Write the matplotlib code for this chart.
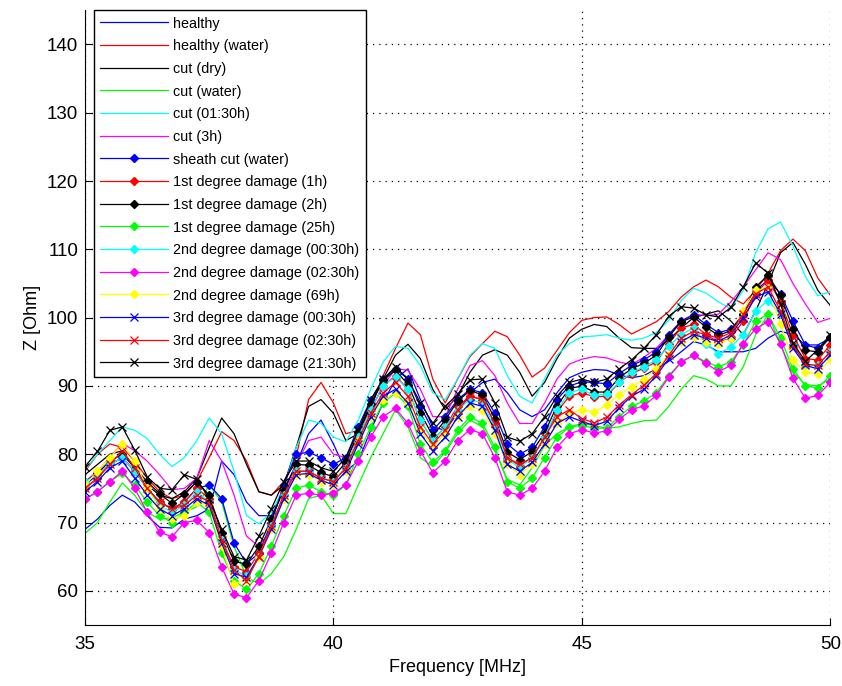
import numpy as np
import matplotlib
matplotlib.use('Agg')
import matplotlib.pyplot as plt

# Frequência (MHz) - passo de 0.25 MHz
freq = np.linspace(35, 50, 61)

healthy = [69, 70.5, 72.5, 74, 73, 71, 69.3, 69.2, 70.5, 71, 72, 79, 77, 73, 71, 71,
           74.5, 78.5, 83, 85, 81.5, 77.5, 79, 83.5, 87.5, 91, 92.5, 88, 84, 83.5, 86,
           89, 90.5, 91, 89, 86.5, 85.5, 86.5, 89, 91.2, 92, 92.4, 92.3, 91.6, 91.2,
           91.5, 92.5, 93.6, 95, 96.5, 96, 95, 95, 95, 95.5, 97, 98, 97.5, 96, 96, 97]
healthy_water = [77.5, 80, 81.5, 81, 79, 76.5, 74.5, 73.5, 74, 76, 79.5, 83.3, 82, 79,
                 74.5, 74, 76, 79.6, 88, 90.5, 87.5, 83, 83.5, 87, 91.5, 95.5, 99.2,
                 97.5, 91, 87.5, 91, 94.3, 96.2, 98, 97.2, 94.5, 91.3, 92.6, 95.2, 97.8,
                 99.6, 100, 100.1, 99, 97.6, 98.5, 99.4, 100.9, 103, 104.5, 105.5, 104.5,
                 103, 102, 104, 106.5, 109.8, 111.5, 109.8, 105.8, 103.3]
cut_dry = [77, 78.5, 80, 80.5, 78, 75.5, 74, 73.5, 74.5, 76.5, 81, 85.3, 83, 78.5, 74.5,
           74, 75.5, 81, 87, 88, 86, 82, 83, 87, 91, 94.5, 96.1, 94, 89.5, 86.5, 88.5,
           92, 94.5, 95.3, 94.5, 92, 88.5, 90.5, 94, 97, 98.3, 99, 98.7, 97, 95.6, 95.5,
           95.5, 96.7, 98.5, 100, 100.5, 101, 99.5, 97.5, 101, 105, 109.5, 111, 107.8,
           104, 101.8]
cut_water = [68.4, 70, 73, 75.8, 74, 71.5, 70.5, 70.7, 71.5, 72.3, 75.5, 73, 66.5, 62,
             61, 62.5, 65, 69, 73.5, 74, 71.3, 71.3, 75.5, 79.5, 83, 86.5, 84, 79.5,
             78.2, 80.3, 83, 85, 84, 80.5, 76.3, 75.5, 78, 81.3, 83, 84, 84.5, 84.2,
             83.8, 84, 84.5, 84.9, 85, 87, 89.5, 91.5, 91, 90, 90, 92.8, 97.5, 100.5,
             96, 92, 90.2, 90, 91]
cut_0130 = [77.7, 80, 82, 84, 83.5, 82.3, 80, 78.2, 79.5, 82, 85.3, 83, 77.5, 71, 69.8,
            71.5, 75, 81, 85, 84.5, 82.5, 81.8, 85, 89.5, 93.5, 95.8, 95.5, 93, 89, 88,
            91, 94.5, 96.2, 95.5, 91.5, 88.5, 87.5, 91, 94.5, 96.2, 97.2, 97.3, 97.5,
            97, 96.7, 97, 97.8, 99.6, 102.5, 104.3, 103.6, 102.3, 101.3, 104, 109.5,
            113, 114, 110.5, 106, 103.2, 103.8]
cut_3h = [76, 77.5, 79.5, 81.6, 80.5, 79, 77, 74.8, 75, 76.5, 82, 79, 74, 68, 66.5, 69,
          73.5, 78.5, 82, 82.5, 80, 79.5, 82.5, 86.5, 90, 92.5, 92.3, 89.5, 85.5, 85.5,
          89.5, 93, 93.7, 91.5, 87.5, 84.5, 84.5, 87.5, 91, 93.2, 93.9, 94.3, 94.1,
          93.5, 93.1, 94.2, 95.5, 97.5, 99.5, 100.5, 100.3, 100.5, 102.3, 104.5, 107,
          109.5, 108.5, 105, 102, 99.3, 99.9]
sheath_water = [75.5, 77, 78.5, 79.5, 77.5, 75, 73, 72, 73, 75, 75.5, 73.5, 67, 64,
                65.5, 70, 75.5, 80, 80.3, 79.5, 78.5, 79.5, 84, 88, 91, 92.5, 91, 87,
                83.5, 85.5, 88, 89.5, 89, 86, 81.5, 80, 81, 84, 88, 90, 90.6, 90.5,
                90.3, 91.8, 93, 93.8, 95, 97.5, 99.5, 100.4, 99, 97.8, 98.3, 100.4, 104,
                105.5, 103.5, 99.5, 96, 95.5, 97]
dmg1_1h = [75, 76.5, 78.5, 79.5, 77.5, 75, 73, 72, 73, 75, 73.5, 67.5, 63.5, 62.8, 65.5,
           69.5, 74, 77.5, 77.5, 76.5, 76, 78, 82.5, 86.5, 90, 91.5, 89.5, 85, 82, 84,
           87, 88.5, 88, 84.5, 79.5, 78.3, 79.5, 82.3, 86.2, 88.5, 89, 88.4, 88.5,
           90.5, 91.8, 92.6, 93.5, 96.2, 98.5, 99, 97.5, 96.4, 97, 99.5, 103.5, 105.5,
           102.3, 97.5, 94, 93.8, 96]
dmg1_2h = [76, 77.2, 79, 80, 78, 76, 74.2, 72.8, 74.2, 76, 74, 68.5, 64.3, 63.9, 66.5,
           70.5, 74.8, 78.5, 78.4, 77.3, 76.7, 78.8, 83.2, 87.4, 90.8, 92.3, 90.2, 86,
           82.7, 85, 87.8, 89.3, 88.7, 85.2, 80.3, 79.2, 80.4, 83.1, 87.1, 89.6, 90,
           89.1, 89.1, 91.2, 92.5, 93.3, 94.5, 97.2, 99.4, 100.1, 98.6, 97.4, 98.1,
           100.6, 104.5, 106.2, 103.3, 98.4, 95.2, 95, 97.2]
dmg1_25h = [73.5, 74.5, 76, 77.2, 75.5, 73, 71, 70, 71.5, 73, 71.5, 65.5, 61.5, 60.2,
            62.5, 66.5, 71, 75, 75.5, 74.5, 74, 75.5, 80, 84, 87.5, 89, 87, 81.5, 78.8,
            80.5, 83.5, 85.5, 84.5, 81, 76, 75, 76.5, 79.5, 82.5, 84, 84.2, 83.8, 83.8,
            85.5, 87, 87.8, 89, 91.5, 93.5, 94.5, 93.5, 92.8, 93.5, 96, 99.5, 100.5,
            97, 92.5, 90, 89.7, 91.5]
dmg2_0030 = [76, 77, 78.5, 79.5, 77.5, 75, 72.5, 71.5, 72.5, 74.5, 73, 67.5, 63, 62.2,
             65, 69.5, 74, 77.5, 77.5, 76.5, 76, 78, 82.5, 86.5, 90, 91.3, 89.5, 85, 82,
             84, 86.5, 88, 87.5, 84, 79.3, 78, 79.5, 82.5, 86.5, 89, 89.5, 88.6, 88.8,
             90.5, 92, 92.8, 93.8, 95.8, 97.5, 98.5, 96.2, 94.7, 95.7, 97.5, 101, 102.5,
             100.5, 96, 93, 93, 95]
dmg2_0230 = [73.4, 74.5, 76, 77.5, 75, 71.5, 68.6, 67.9, 70, 70.3, 68.5, 63.5, 59.5, 59,
             61.5, 65.5, 70, 74, 74.3, 74, 74.3, 75.5, 79, 82.5, 85.5, 86.7, 84.5, 80.5,
             77.3, 79, 82, 83.6, 83, 79.5, 74.5, 74, 75, 77.5, 81, 83, 83.6, 83.1, 83.4,
             85.1, 86.5, 87.1, 88.6, 91.3, 93.5, 94.5, 93.3, 92.1, 93, 96.2, 98.4, 99.4,
             96.2, 91.1, 88.2, 88.6, 90.5]
dmg2_69h = [75.5, 77.5, 79.5, 81.5, 79, 75, 72, 70.5, 71, 73, 72.5, 66.5, 61, 61.8, 65,
            69, 73.5, 77, 77, 76, 75.5, 77.5, 82, 85.5, 88, 89, 87.5, 83.5, 81, 83, 85.5,
            87, 86.5, 83, 78.5, 77, 78.5, 81.5, 84.5, 86, 86.5, 86.2, 87.2, 88.7, 89.9,
            91, 92.5, 94.5, 96.5, 97.2, 96.5, 96.2, 97, 101, 104, 104.3, 99, 93.8, 92,
            91.8, 94]
dmg3_0030 = [74.5, 76, 78, 79, 76.5, 74, 72, 71, 72, 73.5, 72.5, 67, 62.5, 62, 65, 69,
             73.5, 77, 77.2, 76.2, 75.5, 77.5, 81.5, 85.5, 88.5, 89.5, 87.5, 83, 80.5,
             82.5, 85.5, 87.5, 87, 83.5, 78.5, 77.5, 78.8, 81.5, 84.5, 85.5, 84.8, 84.2,
             84.8, 86.8, 88.5, 89.5, 91.5, 94, 96.5, 97.5, 97, 96.5, 97.5, 100, 103,
             103.8, 100.5, 95.5, 93, 92.5, 94.5]
dmg3_0230 = [75, 76.5, 78.5, 80.5, 78, 75, 73, 72, 72.5, 74, 73, 67.5, 63, 61.5, 65,
             69.5, 74, 77.5, 77.5, 76.5, 76, 78, 82, 86, 89, 90.5, 88.5, 84, 81.5, 83.5,
             86.5, 88.5, 88, 84.5, 79.5, 78.5, 79.5, 82.5, 85.5, 86.5, 85.2, 84.6, 85.4,
             87.2, 88.7, 90.1, 91.8, 94.5, 97, 98, 97.5, 97, 97.8, 100.5, 103.5, 104.5,
             101, 96, 93.2, 93, 95]
dmg3_2130 = [78.2, 80.4, 83.5, 84, 80.6, 76.7, 75, 74.8, 77, 76.3, 73.5, 69, 65, 64.5,
             68, 72, 76, 79, 79, 78, 77.5, 79.5, 83.5, 87.9, 91, 92.8, 91, 87.5, 84.5,
             87, 88.8, 90.9, 91, 87.5, 82.5, 81.9, 83, 85.5, 88.5, 90.5, 91, 90.5, 91,
             92.5, 93.8, 95.5, 97.5, 100.2, 101.6, 101.4, 100.4, 100.1, 101.5, 104.5,
             108, 106.5, 102, 96.3, 93.6, 95.3, 97.5]

rotulos = ['healthy', 'healthy (water)', 'cut (dry)', 'cut (water)', 'cut (01:30h)',
           'cut (3h)', 'sheath cut (water)', '1st degree damage (1h)',
           '1st degree damage (2h)', '1st degree damage (25h)',
           '2nd degree damage (00:30h)', '2nd degree damage (02:30h)',
           '2nd degree damage (69h)', '3rd degree damage (00:30h)',
           '3rd degree damage (02:30h)', '3rd degree damage (21:30h)']
series = [healthy, healthy_water, cut_dry, cut_water, cut_0130, cut_3h, sheath_water,
          dmg1_1h, dmg1_2h, dmg1_25h, dmg2_0030, dmg2_0230, dmg2_69h,
          dmg3_0030, dmg3_0230, dmg3_2130]
cores = ['#0000ff', '#ff0000', '#000000', '#00ff00', '#00ffff', '#ff00ff',
         '#0000ff', '#ff0000', '#000000', '#00ff00', '#00ffff', '#ff00ff', '#ffff00',
         '#0000ff', '#ff0000', '#000000']
marcadores = [None] * 6 + ['D'] * 7 + ['x'] * 3

plt.rcParams['font.family'] = ['Liberation Sans', 'DejaVu Sans']

fig = plt.figure(figsize=(8.42, 6.86), dpi=100)
ax = fig.add_axes([0.101, 0.089, 0.885, 0.896])

for valores, rotulo, cor, marc in zip(series, rotulos, cores, marcadores):
    if marc == 'D':
        ax.plot(freq, valores, color=cor, lw=0.9, marker='D', markersize=4.5, label=rotulo)
    elif marc == 'x':
        ax.plot(freq, valores, color=cor, lw=0.9, marker='x', markersize=5.5,
                markeredgewidth=0.9, label=rotulo)
    else:
        ax.plot(freq, valores, color=cor, lw=0.9, label=rotulo)

ax.set_xlim(35, 50)
ax.set_ylim(55, 145)
ax.set_xticks([35, 40, 45, 50])
ax.set_yticks(range(60, 141, 10))
ax.grid(True, color='black', linestyle=(0, (1, 4)), linewidth=0.9)
ax.spines['top'].set_visible(False)
ax.spines['right'].set_visible(False)
ax.tick_params(direction='in', length=5, labelsize=13.5, pad=5)
ax.tick_params(axis='x', pad=8)
ax.set_xlabel('Frequency [MHz]', fontsize=13)
ax.set_ylabel('Z [Ohm]', fontsize=13)

leg = ax.legend(loc='upper left', bbox_to_anchor=(0.1116, 0.9854),
                bbox_transform=fig.transFigure, borderaxespad=0, fontsize=10.4,
                handlelength=4.7, handletextpad=0.35, labelspacing=0.6,
                borderpad=0.45, fancybox=False, framealpha=1, edgecolor='black')
leg.get_frame().set_linewidth(1.0)

fig.savefig('out.png', dpi=100)
